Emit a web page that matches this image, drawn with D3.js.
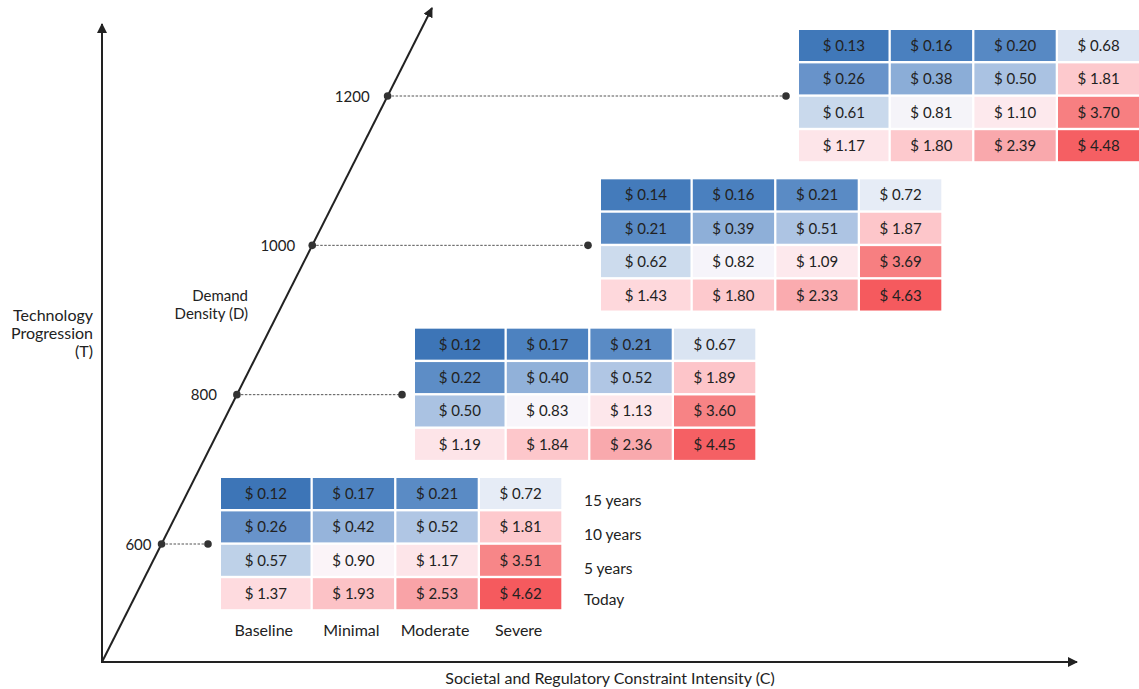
<!DOCTYPE html>
<html><head><meta charset="utf-8">
<script src="https://cdn.jsdelivr.net/npm/d3@7"></script>
<style>html,body{margin:0;padding:0;background:#fff;overflow:hidden}svg{display:block;font-family:Lato,"Noto Sans",sans-serif}</style>
</head><body><svg id="c" width="1139" height="689"></svg>
<script>
const densities = [600, 800, 1000, 1200];
const constraints = ["Baseline", "Minimal", "Moderate", "Severe"];
const horizons = ["15 years", "10 years", "5 years", "Today"];
const costs600  = [[0.12,0.17,0.21,0.72],[0.26,0.42,0.52,1.81],[0.57,0.90,1.17,3.51],[1.37,1.93,2.53,4.62]];
const costs800  = [[0.12,0.17,0.21,0.67],[0.22,0.40,0.52,1.89],[0.50,0.83,1.13,3.60],[1.19,1.84,2.36,4.45]];
const costs1000 = [[0.14,0.16,0.21,0.72],[0.21,0.39,0.51,1.87],[0.62,0.82,1.09,3.69],[1.43,1.80,2.33,4.63]];
const costs1200 = [[0.13,0.16,0.20,0.68],[0.26,0.38,0.50,1.81],[0.61,0.81,1.10,3.70],[1.17,1.80,2.39,4.48]];
const tables = [costs600, costs800, costs1000, costs1200];

const svg = d3.select("#c");
const ink = "#222";
const O = {x:102, y:662};
const diagTip = {x:432, y:8};
const slope = (diagTip.x - O.x) / (O.y - diagTip.y);

// scales
const yD = d3.scaleLinear().domain([600,1200]).range([544,96]);
const xD = d => O.x + (O.y - yD(d)) * slope;
const xTable = d3.scaleLinear().domain([600,800,1000,1200]).range([221,415,601,799]);
const color = d3.scaleLinear()
  .domain([0.12,0.16,0.21,0.26,0.39,0.51,0.6,0.7,0.85,1.15,1.4,1.85,2.4,3.6,4.6])
  .range(["#3d75b7","#4a80bf","#5a8bc5","#6893ca","#8eafd8","#adc4e3","#c6d7eb","#e3eaf5","#fbf7fb","#fde6ea","#fed9dd","#fdc7cb","#f9a7ab","#f78385","#f55a5e"])
  .clamp(true);

// arrow marker
const defs = svg.append("defs");
defs.append("marker").attr("id","arr").attr("viewBox","0 0 10 10").attr("refX",9).attr("refY",5)
  .attr("markerWidth",5).attr("markerHeight",5).attr("orient","auto")
  .append("path").attr("d","M0,0L10,5L0,10z").attr("fill",ink);

// axes
svg.append("line").attr("x1",O.x).attr("y1",O.y+1).attr("x2",O.x).attr("y2",24)
  .attr("stroke",ink).attr("stroke-width",2).attr("marker-end","url(#arr)");
svg.append("line").attr("x1",O.x-1).attr("y1",O.y).attr("x2",1077).attr("y2",O.y)
  .attr("stroke",ink).attr("stroke-width",2).attr("marker-end","url(#arr)");
svg.append("line").attr("x1",O.x).attr("y1",O.y).attr("x2",diagTip.x).attr("y2",diagTip.y)
  .attr("stroke",ink).attr("stroke-width",2).attr("marker-end","url(#arr)");

// axis titles
svg.append("text").attr("x",610).attr("y",684).attr("text-anchor","middle")
  .attr("font-size",16).attr("fill",ink).text("Societal and Regulatory Constraint Intensity (C)");
const tT = svg.append("text").attr("text-anchor","end").attr("font-size",16).attr("fill",ink);
["Technology","Progression","(T)"].forEach((s,i)=>tT.append("tspan").attr("x",93).attr("y",321+i*18).text(s));
const tD = svg.append("text").attr("text-anchor","end").attr("font-size",15).attr("fill",ink);
["Demand","Density (D)"].forEach((s,i)=>tD.append("tspan").attr("x",248).attr("y",301+i*17.5).text(s));

const colW = [89.5,81.3,81.3,81.3], gap = 2.3, rowH = 31, rowP = 33.4;
const colX = [0]; for (let i=1;i<4;i++) colX.push(colX[i-1]+colW[i-1]+gap);
const tickOff = [10, 20, 17, 18];

densities.forEach((d,k)=>{
  const px = xD(d), py = yD(d);
  const tx = xTable(d), ty = py - 66;
  svg.append("text").attr("x",px-tickOff[k]).attr("y",py+5.5).attr("text-anchor","end")
    .attr("font-size",15).attr("fill",ink).text(d);
  svg.append("line").attr("x1",px).attr("y1",py).attr("x2",tx-13).attr("y2",py)
    .attr("stroke","#555").attr("stroke-width",1).attr("stroke-dasharray","2.5,1.5");
  svg.append("circle").attr("cx",px).attr("cy",py).attr("r",3.8).attr("fill","#333");
  svg.append("circle").attr("cx",tx-13).attr("cy",py).attr("r",3.8).attr("fill","#333");
  const g = svg.append("g").attr("transform",`translate(${tx},${ty})`);
  tables[k].forEach((row,r)=>row.forEach((v,c)=>{
    g.append("rect").attr("x",colX[c]).attr("y",r*rowP).attr("width",colW[c]).attr("height",rowH)
      .attr("fill",color(v));
    g.append("text").attr("x",colX[c]+colW[c]/2).attr("y",r*rowP+rowH/2+5.5)
      .attr("text-anchor","middle").attr("font-size",15).attr("fill",ink).text("$ "+v.toFixed(2));
  }));
  if (k===0) {
    const ly = [22,56,90,121];
    horizons.forEach((h,i)=>g.append("text").attr("x",363).attr("y",ly[i]+5.5)
      .attr("font-size",15.5).attr("fill",ink).text(h));
    constraints.forEach((cn,i)=>g.append("text").attr("x",colX[i]+colW[i]/2-2).attr("y",152+5.5)
      .attr("text-anchor","middle").attr("font-size",16).attr("fill",ink).text(cn));
  }
});
</script></body></html>
